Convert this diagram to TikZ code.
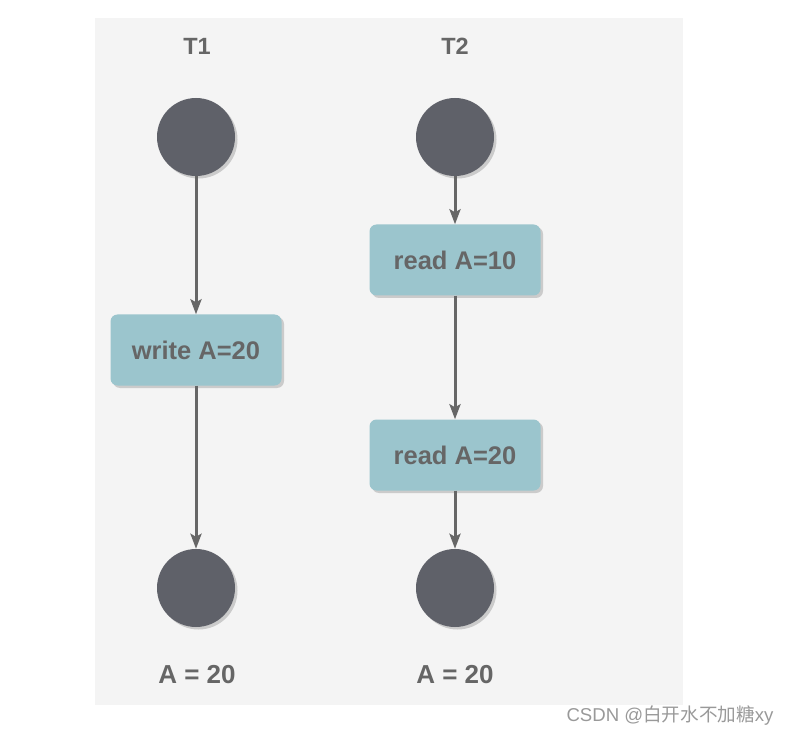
\documentclass[tikz,border=0pt]{standalone}
\usepackage{fontspec}
\setmainfont{Liberation Sans}
\newfontfamily\cjk{Noto Sans CJK SC}
\usetikzlibrary{arrows.meta}
\usetikzlibrary{shadows}
\definecolor{panelgray}{HTML}{F4F4F4}
\definecolor{dotgray}{HTML}{5F6169}
\definecolor{boxteal}{HTML}{9BC5CD}
\definecolor{textgray}{HTML}{666666}
\definecolor{markgray}{HTML}{999999}

\begin{document}
\begin{tikzpicture}[x=1pt,y=-1pt,
  dot/.style={circle,fill=dotgray,minimum size=78pt,inner sep=0pt,
    drop shadow={shadow xshift=2.5pt,shadow yshift=-2.5pt,opacity=0.35}},
  opbox/.style={rectangle,rounded corners=7pt,fill=boxteal,minimum width=171pt,minimum height=71pt,
    text=textgray,font=\fontsize{25.5}{28}\selectfont\bfseries,
    drop shadow={shadow xshift=2.5pt,shadow yshift=-2.5pt,opacity=0.35}},
  lbl/.style={text=textgray,font=\fontsize{26}{28}\selectfont\bfseries},
  flow/.style={draw=textgray,line width=3pt,-{Stealth[length=15pt,width=11pt,inset=3pt]}}]
\useasboundingbox (0,0) rectangle (790,735);
\fill[panelgray] (95,18) rectangle (683,705);
\node[lbl,font=\fontsize{23.5}{26}\selectfont\bfseries] (t1) at (197,46) {T1};
\node[lbl,font=\fontsize{23.5}{26}\selectfont\bfseries] (t2) at (455,46) {T2};
\node[dot] (s1) at (196,137) {};
\node[dot] (s2) at (455,137) {};
\node[opbox] (w1) at (196,350) {write A=20};
\node[opbox] (r1) at (455,260) {read A=10};
\node[opbox] (r2) at (455,455) {read A=20};
\node[dot] (e1) at (196,588) {};
\node[dot] (e2) at (455,588) {};
\node[lbl] (v1) at (197,675) {A = 20};
\node[lbl] (v2) at (455,675) {A = 20};
\draw[flow] (s1) -- (w1);
\draw[flow] (w1) -- (e1);
\draw[flow] (s2) -- (r1);
\draw[flow] (r1) -- (r2);
\draw[flow] (r2) -- (e2);
\node[text=markgray,font=\fontsize{18.6}{22}\selectfont,anchor=east] (mark) at (777,716) {CSDN @{\cjk 白开水不加糖}xy};
\end{tikzpicture}
\end{document}
